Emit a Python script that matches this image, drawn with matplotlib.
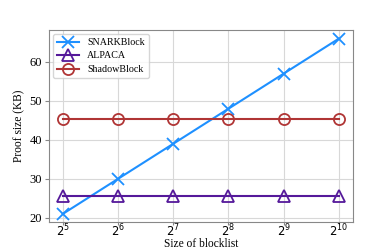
import numpy as np
import matplotlib.pyplot as plt

plt.rcParams['font.family'] = ['Liberation Serif', 'DejaVu Serif']
plt.rcParams['mathtext.fontset'] = 'dejavusans'

sizes = [2**5, 2**6, 2**7, 2**8, 2**9, 2**10]
snarkblock = [21, 30, 39, 48, 57, 66]
alpaca = [25.5, 25.5, 25.5, 25.5, 25.5, 25.5]
shadowblock = [45.3, 45.3, 45.3, 45.3, 45.3, 45.3]

fig = plt.figure(figsize=(3.92, 2.5), dpi=100)
ax = fig.add_axes([49/392, 1 - 221.7/250, (352.7 - 49)/392, (221.7 - 30)/250])

ax.plot(sizes, snarkblock, marker='x', color='#1e90ff', markersize=9,
        markeredgewidth=1.3, linewidth=1.5, label='SNARKBlock')
ax.plot(sizes, alpaca, marker='^', color='#55199a', markersize=8.5,
        markerfacecolor='none', markeredgewidth=1.3, linewidth=1.5, label='ALPACA')
ax.plot(sizes, shadowblock, marker='o', color='#b03535', markersize=8,
        markerfacecolor='none', markeredgewidth=1.3, linewidth=1.5, label='ShadowBlock')

ax.set_xscale('log', base=2)
ax.set_xlim(2**4.75, 2**10.25)
ax.set_ylim(19, 68.2)
ax.set_xticks(sizes)
ax.set_xticklabels([r'$2^{%d}$' % n for n in range(5, 11)])
ax.minorticks_off()
ax.set_yticks([20, 30, 40, 50, 60])
ax.tick_params(axis='x', labelsize=8.3, length=2, pad=-1.5, color='#888888')
ax.tick_params(axis='y', labelsize=9, length=3, pad=2, color='#888888')
ax.grid(True, color='#d8d8d8', linewidth=0.8)
ax.set_axisbelow(True)
for s in ax.spines.values():
    s.set_color('#888888')

ax.set_xlabel('Size of blocklist', fontsize=8.3, va='bottom')
ax.xaxis.set_label_coords(0.5, -0.146)
ax.set_ylabel('Proof size (KB)', fontsize=8.3, labelpad=3)
ax.legend(loc='upper left', fontsize=7.2, edgecolor='#cccccc', handlelength=2.2,
          labelspacing=0.45, borderaxespad=0.4)

fig.savefig('out.png', dpi=100)
